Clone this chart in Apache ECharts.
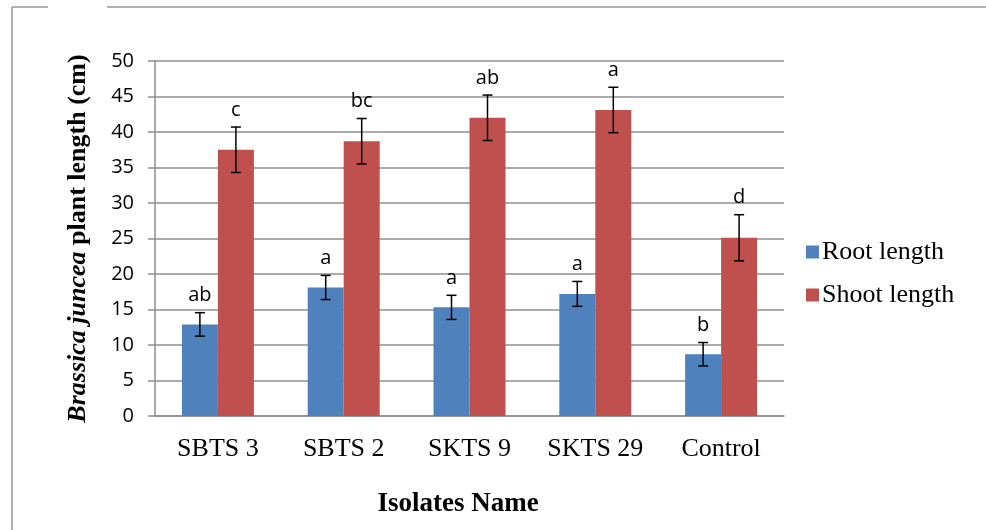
<!DOCTYPE html>
<html>
<head>
<meta charset="utf-8">
<script src="https://cdn.jsdelivr.net/npm/echarts@6/dist/echarts.min.js"></script>
<style>
  html, body { margin: 0; padding: 0; background: #fff; }
  #main { width: 986px; height: 530px; }
</style>
</head>
<body>
<div id="main"></div>
<script>
// data
var isolates = ['SBTS 3', 'SBTS 2', 'SKTS 9', 'SKTS 29', 'Control'];
var rootLength = [12.9, 18.1, 15.3, 17.2, 8.7];
var rootError = [1.65, 1.7, 1.7, 1.75, 1.65];
var rootLetters = ['ab', 'a', 'a', 'a', 'b'];
var shootLength = [37.5, 38.7, 42.0, 43.1, 25.1];
var shootError = [3.2, 3.2, 3.2, 3.2, 3.25];
var shootLetters = ['c', 'bc', 'ab', 'a', 'd'];
var yTicks = { min: 0, max: 50, interval: 5 };

var BAR_W = 36;
var GRID_COL = '#8f8f8f';

function errData(vals, errs, letters) {
    return vals.map(function (v, i) { return [i, v, errs[i], letters[i]]; });
}

// error bar + significance letter, shifted onto its bar
function errRender(offset) {
    return function (params, api) {
        var idx = api.value(0);
        var v = api.value(1);
        var e = api.value(2);
        var x = api.coord([idx, 0])[0] + offset;
        var top = api.coord([idx, v + e])[1];
        var bot = api.coord([idx, v - e])[1];
        var cap = 5;
        var st = { stroke: '#000', lineWidth: 1.5 };
        return {
            type: 'group',
            children: [
                { type: 'line', shape: { x1: x, y1: top, x2: x, y2: bot }, style: st },
                { type: 'line', shape: { x1: x - cap, y1: top, x2: x + cap, y2: top }, style: st },
                { type: 'line', shape: { x1: x - cap, y1: bot, x2: x + cap, y2: bot }, style: st },
                {
                    type: 'text',
                    x: x, y: top - 17,
                    style: {
                        text: api.value(3),
                        fill: '#000',
                        font: '20px "Open Sans"',
                        align: 'center',
                        verticalAlign: 'middle'
                    }
                }
            ]
        };
    };
}

var chart = echarts.init(document.getElementById('main'));

var option = {
    backgroundColor: '#fff',
    animation: false,
    title: {
        text: 'Isolates Name',
        left: 453,
        top: 486,
        textAlign: 'center',
        textStyle: { fontFamily: 'Liberation Serif', fontWeight: 'bold', fontSize: 27, color: '#000' }
    },
    grid: { left: 155, right: 202, top: 61, bottom: 114 },
    legend: {
        orient: 'vertical',
        left: 801,
        top: 232,
        itemWidth: 13,
        itemHeight: 13,
        itemGap: 13,
        icon: 'rect',
        data: ['Root length', 'Shoot length'],
        textStyle: { fontFamily: 'Liberation Serif', fontSize: 26, color: '#000', lineHeight: 30, padding: [0, 0, 0, -2] }
    },
    xAxis: {
        type: 'category',
        data: isolates,
        axisLine: { lineStyle: { color: GRID_COL, width: 1.5 } },
        axisTick: { length: 7, lineStyle: { color: GRID_COL, width: 1.5 } },
        axisLabel: { margin: 20, fontFamily: 'Liberation Serif', fontSize: 26, color: '#000' }
    },
    yAxis: {
        type: 'value',
        min: yTicks.min,
        max: yTicks.max,
        interval: yTicks.interval,
        name: '{i|Brassica juncea}{b| plant length (cm)}',
        nameLocation: 'middle',
        nameRotate: 90,
        nameGap: 64,
        nameTextStyle: {
            rich: {
                i: { fontFamily: 'Liberation Serif', fontWeight: 'bold', fontStyle: 'italic', fontSize: 26, color: '#000' },
                b: { fontFamily: 'Liberation Serif', fontWeight: 'bold', fontSize: 26, color: '#000' }
            }
        },
        axisLine: { show: true, lineStyle: { color: GRID_COL, width: 1.5 } },
        axisTick: { show: true, length: 7, lineStyle: { color: GRID_COL, width: 1.5 } },
        axisLabel: { margin: 21, fontFamily: 'Open Sans', fontSize: 20, color: '#000' },
        splitLine: { lineStyle: { color: GRID_COL, width: 1.5 } }
    },
    series: [
        {
            name: 'Root length',
            type: 'bar',
            barWidth: BAR_W,
            barGap: '0%',
            itemStyle: { color: '#4F81BD' },
            data: rootLength
        },
        {
            name: 'Shoot length',
            type: 'bar',
            barWidth: BAR_W,
            barGap: '0%',
            itemStyle: { color: '#C0504D' },
            data: shootLength
        },
        {
            type: 'custom',
            renderItem: errRender(-BAR_W / 2),
            encode: { x: 0, y: 1 },
            data: errData(rootLength, rootError, rootLetters),
            z: 5
        },
        {
            type: 'custom',
            renderItem: errRender(BAR_W / 2),
            encode: { x: 0, y: 1 },
            data: errData(shootLength, shootError, shootLetters),
            z: 5
        }
    ],
    graphic: [
        // outer frame, broken at the top left as in the figure
        { type: 'line', shape: { x1: 12, y1: 7, x2: 12, y2: 530 }, style: { stroke: '#999', lineWidth: 1.5 } },
        { type: 'line', shape: { x1: 12, y1: 7, x2: 48, y2: 7 }, style: { stroke: '#999', lineWidth: 1.5 } },
        { type: 'line', shape: { x1: 107, y1: 7, x2: 986, y2: 7 }, style: { stroke: '#999', lineWidth: 1.5 } }
    ]
};

chart.setOption(option);
</script>
</body>
</html>
